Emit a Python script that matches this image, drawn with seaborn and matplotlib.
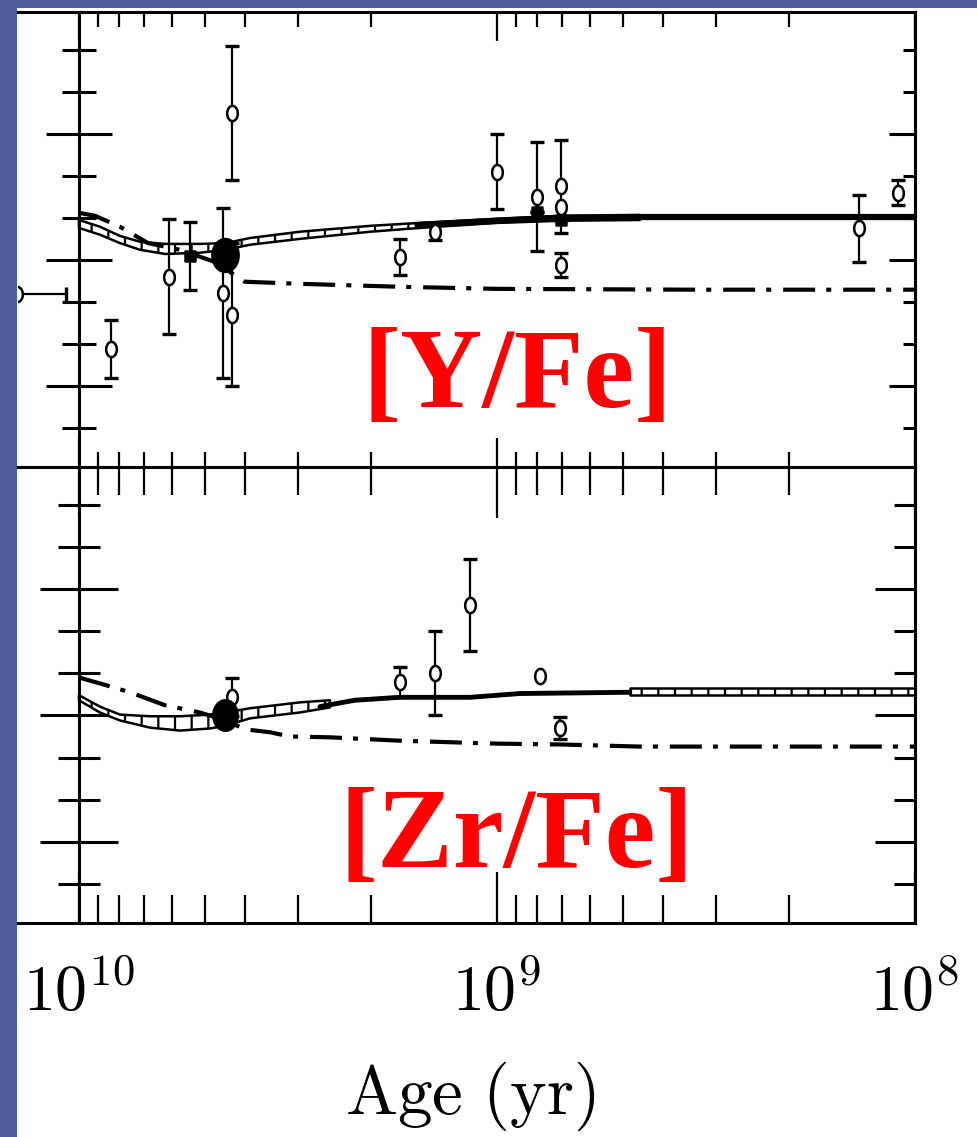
import matplotlib
matplotlib.use("Agg")
import matplotlib.pyplot as plt
import numpy as np
import seaborn as sns
from matplotlib.markers import MarkerStyle
from matplotlib.patches import Rectangle
from matplotlib.path import Path
from matplotlib.ticker import FixedLocator, LogLocator, MultipleLocator, NullFormatter

# ages are in Gyr, abundances in dex

# ---- [Y/Fe] panel ----
y_obs_age = [4.31, 8.38, 6.09, 4.52, 4.31, 1.00, 1.71, 1.41, 0.802, 0.703, 0.703, 0.136, 0.110]
y_obs_val = [0.350, -0.212, -0.040, -0.079, -0.131, 0.210, 0.007, 0.067, 0.150, 0.175, -0.012, 0.075, 0.160]
y_obs_err = [0.160, 0.068, 0.137, 0.202, 0.170, 0.089, 0.042, 0.020, 0.130, 0.110, 0.029, 0.080, 0.029]
y_noerr_age = [0.703]
y_noerr_val = [0.126]
y_fill_age = [5.43, 0.802, 0.703]
y_fill_val = [0.010, 0.114, 0.095]
y_fill_err = [0.081, 0.0, 0.0]
y_old_age = [14.1]
y_old_val = [-0.081]
y_old_xerr = [3.36]
y_sun = (4.48, 0.012)

y_dd_age = [10.0, 9.16, 7.98, 6.84, 5.73, 4.73, 4.01, 2.96, 1.71, 1.00, 0.327, 0.100]
y_dd_val = [0.112, 0.105, 0.079, 0.040, 0.024, -0.005, -0.052, -0.057, -0.064, -0.069, -0.071, -0.071]
y_band_age = [10.0, 8.91, 7.98, 7.14, 6.22, 5.14, 4.45, 3.90, 2.96, 2.01, 1.53, 1.00, 0.706, 0.455]
y_band_hi = [0.095, 0.079, 0.057, 0.043, 0.038, 0.038, 0.040, 0.052, 0.067, 0.081, 0.088, 0.098, 0.105, 0.107]
y_band_lo = [0.076, 0.060, 0.040, 0.024, 0.014, 0.017, 0.024, 0.036, 0.050, 0.067, 0.076, 0.088, 0.093, 0.095]
y_solid_age = [1.55, 1.00, 0.789, 0.706, 0.455, 0.100]
y_solid_val = [0.083, 0.093, 0.098, 0.100, 0.102, 0.102]

# ---- [Zr/Fe] panel ----
zr_obs_age = [4.31, 1.71, 1.41, 1.16, 0.706]
zr_obs_val = [0.043, 0.079, 0.100, 0.262, -0.029]
zr_obs_err = [0.045, 0.036, 0.100, 0.110, 0.026]
zr_noerr_age = [0.789]
zr_noerr_val = [0.093]
zr_sun = (4.48, 0.0)

zr_dd_age = [10.0, 8.91, 7.55, 6.22, 5.14, 4.45, 4.01, 3.49, 3.13, 2.51, 1.71, 1.00, 0.706, 0.455, 0.100]
zr_dd_val = [0.090, 0.076, 0.055, 0.024, 0.007, -0.012, -0.033, -0.040, -0.050, -0.052, -0.060, -0.067, -0.069, -0.074, -0.074]
zr_band_age = [10.0, 8.91, 7.98, 6.76, 5.73, 4.86, 4.45, 3.90, 2.96, 2.51]
zr_band_hi = [0.048, 0.021, 0.002, -0.002, -0.002, 0.002, 0.007, 0.017, 0.031, 0.036]
zr_band_lo = [0.036, 0.007, -0.012, -0.029, -0.036, -0.031, -0.024, -0.007, 0.007, 0.019]
zr_solid_age = [2.65, 2.19, 1.71, 1.16, 0.881, 0.481]
zr_solid_val = [0.021, 0.036, 0.043, 0.043, 0.052, 0.055]
zr_band2_age = [0.481, 0.100]
zr_band2_hi = [0.064, 0.064]
zr_band2_lo = [0.048, 0.048]

GYR = 1e9

sns.set_theme(style="white")
plt.rcParams["mathtext.fontset"] = "cm"
plt.rcParams["lines.scale_dashes"] = False
plt.rcParams["hatch.linewidth"] = 1.6
plt.rcParams["hatch.color"] = "black"

W, H = 978, 1137
fig = plt.figure(figsize=(W / 100, H / 100), dpi=100, facecolor="#4d5e98")
fig.add_artist(Rectangle((17 / W, 0), 1 - 17 / W, 1 - 8 / H, transform=fig.transFigure,
                         facecolor="white", edgecolor="none", zorder=0))


def box(x0, y0, x1, y1):
    return [x0 / W, 1 - y1 / H, (x1 - x0) / W, (y1 - y0) / H]


ax_y = fig.add_axes(box(18, 12, 915, 467))
ax_zr = fig.add_axes(box(18, 467, 915, 923))

t = np.linspace(0, 2 * np.pi, 40)
open_mark = MarkerStyle(Path(np.column_stack([0.7 * np.cos(t), np.sin(t)]), closed=True))
sun_mark = MarkerStyle(Path(np.column_stack([0.8 * np.cos(t), np.sin(t)]), closed=True))
dashdot = (0, (23, 8, 3.6, 8.6))


def frame(ax, xt, yt, rt):
    ax.set_xscale("log")
    ax.set_xlim(1.399e10, 1e8)
    ax.set_ylim(-0.493, 0.590)
    ax.set_facecolor("white")
    ax.spines["left"].set_position(("data", 1e10))
    for s in ax.spines.values():
        s.set_visible(True)
        s.set_color("black")
        s.set_linewidth(2.2)
    ax.xaxis.set_major_locator(FixedLocator([1e10, 1e9, 1e8]))
    ax.xaxis.set_minor_locator(LogLocator(base=10, subs=np.arange(2, 10), numticks=20))
    ax.xaxis.set_minor_formatter(NullFormatter())
    ax.yaxis.set_major_locator(MultipleLocator(0.3))
    ax.yaxis.set_minor_locator(MultipleLocator(0.1))
    ax.yaxis.set_major_formatter(NullFormatter())
    ax.tick_params(axis="x", which="both", direction="in", top=True, bottom=True,
                   width=1.6, color="black", labelcolor="black")
    ax.tick_params(axis="x", which="minor", length=xt[0])
    ax.tick_params(axis="x", which="major", length=xt[1])
    ax.tick_params(axis="y", which="both", direction="inout", left=True, right=False,
                   width=2.2, color="black")
    ax.tick_params(axis="y", which="minor", length=yt[0])
    ax.tick_params(axis="y", which="major", length=yt[1])
    sec = ax.secondary_yaxis("right")
    sec.yaxis.set_major_locator(MultipleLocator(0.3))
    sec.yaxis.set_minor_locator(MultipleLocator(0.1))
    sec.yaxis.set_major_formatter(NullFormatter())
    sec.yaxis.set_minor_formatter(NullFormatter())
    sec.spines["right"].set_linewidth(2.2)
    sec.spines["right"].set_color("black")
    sec.tick_params(which="both", direction="in", width=2.2, color="black")
    sec.tick_params(which="minor", length=rt[0])
    sec.tick_params(which="major", length=rt[1])
    ax.set_xlabel("")
    ax.set_ylabel("")


def models(ax, dd_age, dd_val, bands, solid_age, solid_val, solid_lw):
    for b_age, b_lo, b_hi in bands:
        ax.fill_between(np.array(b_age) * GYR, b_lo, b_hi, facecolor="white",
                        edgecolor="black", hatch="|", linewidth=1.8, zorder=2)
    sns.lineplot(x=np.array(solid_age) * GYR, y=solid_val, ax=ax, color="black",
                 lw=solid_lw, estimator=None, sort=False, zorder=3)
    sns.lineplot(x=np.array(dd_age) * GYR, y=dd_val, ax=ax, color="black", lw=3,
                 linestyle=dashdot, estimator=None, sort=False, zorder=3)


def points(ax, age, val, err, marker, size, face, lw=1.8):
    age = np.array(age) * GYR
    if err is not None:
        ax.errorbar(age, val, yerr=err, fmt="none", ecolor="black", elinewidth=1.6,
                    capsize=5, capthick=2.4, zorder=4)
    sns.scatterplot(x=age, y=val, ax=ax, marker=marker, s=size, facecolor=face,
                    edgecolor="black", linewidth=lw, zorder=5)


# [Y/Fe]
models(ax_y, y_dd_age, y_dd_val, [(y_band_age, y_band_lo, y_band_hi)],
       y_solid_age, y_solid_val, 4.5)
points(ax_y, y_obs_age, y_obs_val, y_obs_err, open_mark, 120, "white")
points(ax_y, y_noerr_age, y_noerr_val, None, open_mark, 120, "white")
points(ax_y, y_fill_age, y_fill_val, y_fill_err, "s", 45, "black")
ax_y.errorbar(np.array(y_old_age) * GYR, y_old_val, xerr=np.array(y_old_xerr) * GYR,
              fmt="none", ecolor="black", elinewidth=1.6, capsize=5, capthick=2.4, zorder=4)
points(ax_y, y_old_age, y_old_val, None, open_mark, 120, "white")
points(ax_y, [y_sun[0]], [y_sun[1]], None, sun_mark, 560, "black")

# [Zr/Fe]
models(ax_zr, zr_dd_age, zr_dd_val,
       [(zr_band_age, zr_band_lo, zr_band_hi), (zr_band2_age, zr_band2_lo, zr_band2_hi)],
       zr_solid_age, zr_solid_val, 3.5)
points(ax_zr, zr_obs_age, zr_obs_val, zr_obs_err, open_mark, 120, "white")
points(ax_zr, zr_noerr_age, zr_noerr_val, None, open_mark, 120, "white")
points(ax_zr, [zr_sun[0]], [zr_sun[1]], None, sun_mark, 480, "black")

frame(ax_y, (11, 21), (24, 48), (9, 19))
frame(ax_zr, (20, 37), (30, 56), (15, 29))
ax_y.xaxis.set_major_formatter(NullFormatter())
ax_zr.set_xticklabels([r"$10^{10}$", r"$10^{9}$", r"$10^{8}$"], fontsize=46, color="black")
ax_zr.tick_params(axis="x", which="major", pad=28)

fig.text(518 / W, 1 - 407 / H, "[Y/Fe]", color="red", fontsize=82, fontweight="bold",
         family="Liberation Serif", ha="center", va="baseline")
fig.text(517 / W, 1 - 867 / H, "[Zr/Fe]", color="red", fontsize=82, fontweight="bold",
         family="Liberation Serif", ha="center", va="baseline")
fig.text(470 / W, 1 - 1114 / H, r"$\mathrm{Age\ (yr)}$", fontsize=50, color="black",
         ha="center", va="baseline")

fig.savefig("out.png", dpi=100, facecolor=fig.get_facecolor())
